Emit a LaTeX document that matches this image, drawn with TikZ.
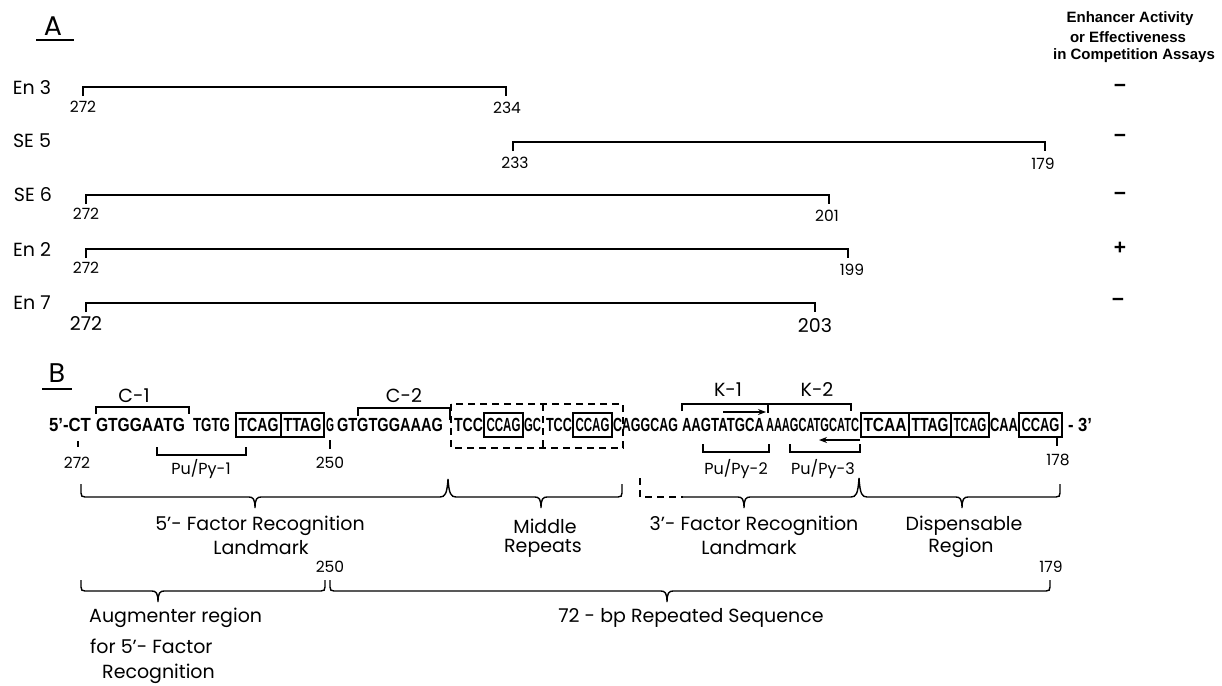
\documentclass[tikz,border=0pt]{standalone}
\usepackage{fontspec}
\usepackage{graphicx}
\setmainfont{Poppins}
\newfontfamily\seqf{Liberation Sans Bold}
\usetikzlibrary{arrows.meta}
\newcommand{\seqseg}[4]{%
  \pgfmathsetmacro{\sgc}{(#2+#3)/2}%
  \pgfmathsetmacro{\sgw}{#3-#2}%
  \node[seqtxt] (#1) at (\sgc,425) {\resizebox{\sgw pt}{\height}{#4}};}
\newcommand{\sqbox}[4]{%
  \pgfmathsetmacro{\sgc}{(#2+#3)/2}%
  \pgfmathsetmacro{\sgw}{#3-#2}%
  \pgfmathsetmacro{\sgt}{#3-#2-5}%
  \node[seqtxt, draw, line width=1.3pt, minimum width=\sgw pt, minimum height=24pt] (#1) at (\sgc,425) {\resizebox{\sgt pt}{\height}{#4}};}
\begin{document}
\begin{tikzpicture}[x=1pt,y=-1pt,
  big/.style={font=\fontsize{27}{27}\selectfont, inner sep=0},
  lbl/.style={font=\fontsize{19}{19}\selectfont, inner sep=0},
  num/.style={font=\fontsize{15.5}{15.5}\selectfont, inner sep=0},
  pp/.style={font=\fontsize{16}{16}\selectfont, inner sep=0},
  numbig/.style={font=\fontsize{19}{19}\selectfont, inner sep=0},
  aln/.style={line width=1.4pt},
  br/.style={line width=1.4pt},
  dsh/.style={line width=1.3pt, dash pattern=on 7pt off 5pt},
  seqtxt/.style={font=\seqf\fontsize{19}{19}\selectfont, inner sep=0},
  hdr/.style={font=\seqf\fontsize{15}{15}\selectfont, inner sep=0},
  sign/.style={font=\seqf\fontsize{21}{21}\selectfont, inner sep=0},
  arr/.style={line width=1.4pt, -{Stealth[length=8pt,width=6pt]}}]
\useasboundingbox (0,0) rectangle (1222,685);
% ---------------- Part A ----------------
\node[big] (Alab) at (53,26) {A};
\draw[line width=1.3pt] (36,40) -- (74,40);
\node[hdr] (h1) at (1130,19) {Enhancer Activity};
\node[hdr] (h2) at (1128,37) {or Effectiveness};
\node[hdr] (h3) at (1134,56) {in Competition Assays};
% En 3
\node[lbl] (nE3) at (32,88) {En 3};
\coordinate (e3l) at (83,96); \coordinate (e3r) at (506,96);
\draw[aln] (e3l) -- ++(0,-9) -| (e3r);
\node[num] (e3a) at (83,107) {272};
\node[num] (e3b) at (507,108) {234};
\node[sign] (g1) at (1120,88) {−};
% SE 5
\node[lbl] (nS5) at (32,141) {SE 5};
\coordinate (s5l) at (513,151); \coordinate (s5r) at (1045,151);
\draw[aln] (s5l) -- ++(0,-9) -| (s5r);
\node[num] (s5a) at (515,163) {233};
\node[num] (s5b) at (1043,164) {179};
\node[sign] (g2) at (1120,138) {−};
% SE 6
\node[lbl] (nS6) at (33,195) {SE 6};
\coordinate (s6l) at (86,204); \coordinate (s6r) at (829,204);
\draw[aln] (s6l) -- ++(0,-9) -| (s6r);
\node[num] (s6a) at (86,214) {272};
\node[num] (s6b) at (827,216) {201};
\node[sign] (g3) at (1120,196) {−};
% En 2
\node[lbl] (nE2) at (32,250) {En 2};
\coordinate (e2l) at (86,258); \coordinate (e2r) at (848,258);
\draw[aln] (e2l) -- ++(0,-9) -| (e2r);
\node[num] (e2a) at (86,268) {272};
\node[num] (e2b) at (852,270) {199};
\node[sign] (g4) at (1120,248) {+};
% En 7
\node[lbl] (nE7) at (32,303) {En 7};
\coordinate (e7l) at (86,312); \coordinate (e7r) at (815,312);
\draw[aln] (e7l) -- ++(0,-9) -| (e7r);
\node[numbig] (e7a) at (86,324) {272};
\node[numbig] (e7b) at (815,326) {203};
\node[sign] (g5) at (1118,302) {−};
% ---------------- Part B ----------------
\node[big] (Blab) at (57,373) {B};
\draw[line width=1.3pt] (42,389) -- (72,389);
% sequence
\seqseg{q1}{49}{91}{5’-CT}
\seqseg{q2}{96}{185}{GTGGAATG}
\seqseg{q3}{193}{230}{TGTG}
\sqbox{x1}{236}{281}{TCAG}
\sqbox{x2}{281}{324}{TTAG}
\seqseg{q4}{326}{334}{G}
\seqseg{q5}{337}{443}{GTGTGGAAAG}
\seqseg{q6}{454}{483}{TCC}
\sqbox{x3}{484}{523}{CCAG}
\seqseg{q7}{524}{541}{GC}
\seqseg{q8}{546}{572}{TCC}
\sqbox{x4}{573}{612}{CCAG}
\seqseg{q9}{613}{678}{CAGGCAG}
\seqseg{q10}{682}{764}{AAGTATGCA}
\seqseg{q11}{766}{859}{AAAGCATGCATC}
\sqbox{x5}{861}{909}{TCAA}
\sqbox{x6}{909}{951}{TTAG}
\sqbox{x7}{951}{989}{TCAG}
\seqseg{q12}{990}{1018}{CAA}
\sqbox{x8}{1019}{1062}{CCAG}
\seqseg{q13}{1068}{1092}{- 3’}
% dashed repeat boxes
\draw[dsh] (451,404) rectangle (623,448);
\draw[dsh] (543,404) -- (543,448);
% C-1, C-2
\node[lbl] (c1) at (134,396) {C-1};
\draw[aln] (96,414) -- (96,407) -- (189,407) -- (189,414);
\node[lbl] (c2) at (404,396) {C-2};
\draw[line width=2.6pt] (358,416) -- (358,408) -- (450,408) -- (450,420);
% K-1, K-2
\node[lbl] (k1) at (728,390) {K-1};
\node[lbl] (k2) at (817,390) {K-2};
\draw[aln] (682,411) -- (682,404) -- (851,404) -- (851,411);
\draw[aln] (768,404) -- (768,413);
\coordinate (ar1a) at (723,412); \coordinate (ar1b) at (766,412);
\draw[arr] (ar1a) -- (ar1b);
\coordinate (ar2a) at (860,440); \coordinate (ar2b) at (819,440);
\draw[arr] (ar2a) -- (ar2b);
% position ticks
\draw[aln] (78,441) -- (78,447);
\node[num] (p272) at (77,463) {272};
\draw[aln] (330,440) -- (330,449);
\node[num] (p250) at (330,463) {250};
\draw[aln] (1057,437) -- (1057,446);
\node[num] (p178) at (1058,460) {178};
% Pu/Py brackets
\draw[aln] (157,447) -- (157,455) -- (246,455) -- (246,447);
\node[pp] (pp1) at (201,469) {Pu/Py-1};
\draw[aln] (703,444) -- (703,452) -- (769,452) -- (769,444);
\node[pp] (pp2) at (736,469) {Pu/Py-2};
\draw[aln] (790,444) -- (790,452) -- (860,452) -- (860,444);
\node[pp] (pp3) at (823,469) {Pu/Py-3};
% upper braces
\draw[br] (81,484) -- (81,493) .. controls (81,496) and (82,497) .. (85,497) -- (249,497)
  .. controls (253,497) and (255,499) .. (255,508) .. controls (255,499) and (257,497) .. (261,497)
  -- (440,497) .. controls (445,497) and (447,494) .. (448,479)
  .. controls (449,494) and (451,497) .. (456,497) -- (535,497)
  .. controls (539,497) and (541,499) .. (541,508) .. controls (541,499) and (543,497) .. (547,497)
  -- (618,497) .. controls (621,497) and (622,496) .. (622,493) -- (622,484);
\draw[br, dash pattern=on 7pt off 5pt] (640,478) -- (640,497) -- (683,497);
\draw[br] (683,497) -- (738,497) .. controls (742,497) and (744,499) .. (744,508)
  .. controls (744,499) and (746,497) .. (750,497) -- (851,497)
  .. controls (856,497) and (858,494) .. (859,478)
  .. controls (860,494) and (862,497) .. (867,497) -- (956,497)
  .. controls (960,497) and (962,499) .. (962,508) .. controls (962,499) and (964,497) .. (968,497)
  -- (1056,497) .. controls (1059,497) and (1060,496) .. (1060,493) -- (1060,484);
\node[lbl] (t5a) at (260,526) {5’- Factor Recognition};
\node[lbl] (t5b) at (261,548) {Landmark};
\node[lbl] (tma) at (545,526) {Middle};
\node[lbl] (tmb) at (543,548) {Repeats};
\node[lbl] (t3a) at (754,526) {3’- Factor Recognition};
\node[lbl] (t3b) at (749,548) {Landmark};
\node[lbl] (tda) at (964,526) {Dispensable};
\node[lbl] (tdb) at (961,548) {Region};
% lower braces
\node[num] (l250) at (330,567) {250};
\node[num] (l179) at (1051,567) {179};
\draw[br] (81,580) -- (81,587) .. controls (81,590) and (82,591) .. (85,591) -- (152,591)
  .. controls (156,591) and (158,593) .. (158,602) .. controls (158,593) and (160,591) .. (164,591)
  -- (321,591) .. controls (324,591) and (325,590) .. (325,587) -- (325,580);
\draw[br] (330,580) -- (330,587) .. controls (330,590) and (331,591) .. (334,591) -- (661,591)
  .. controls (665,591) and (667,593) .. (667,602) .. controls (667,593) and (669,591) .. (673,591)
  -- (1046,591) .. controls (1049,591) and (1050,590) .. (1050,587) -- (1050,580);
\node[lbl, anchor=west] (au1) at (89,618) {Augmenter region};
\node[lbl, anchor=west] (au2) at (90,646) {for 5’- Factor};
\node[lbl, anchor=west] (au3) at (102,674) {Recognition};
\node[lbl] (rep) at (691,618) {72 - bp Repeated Sequence};
\end{tikzpicture}
\end{document}
